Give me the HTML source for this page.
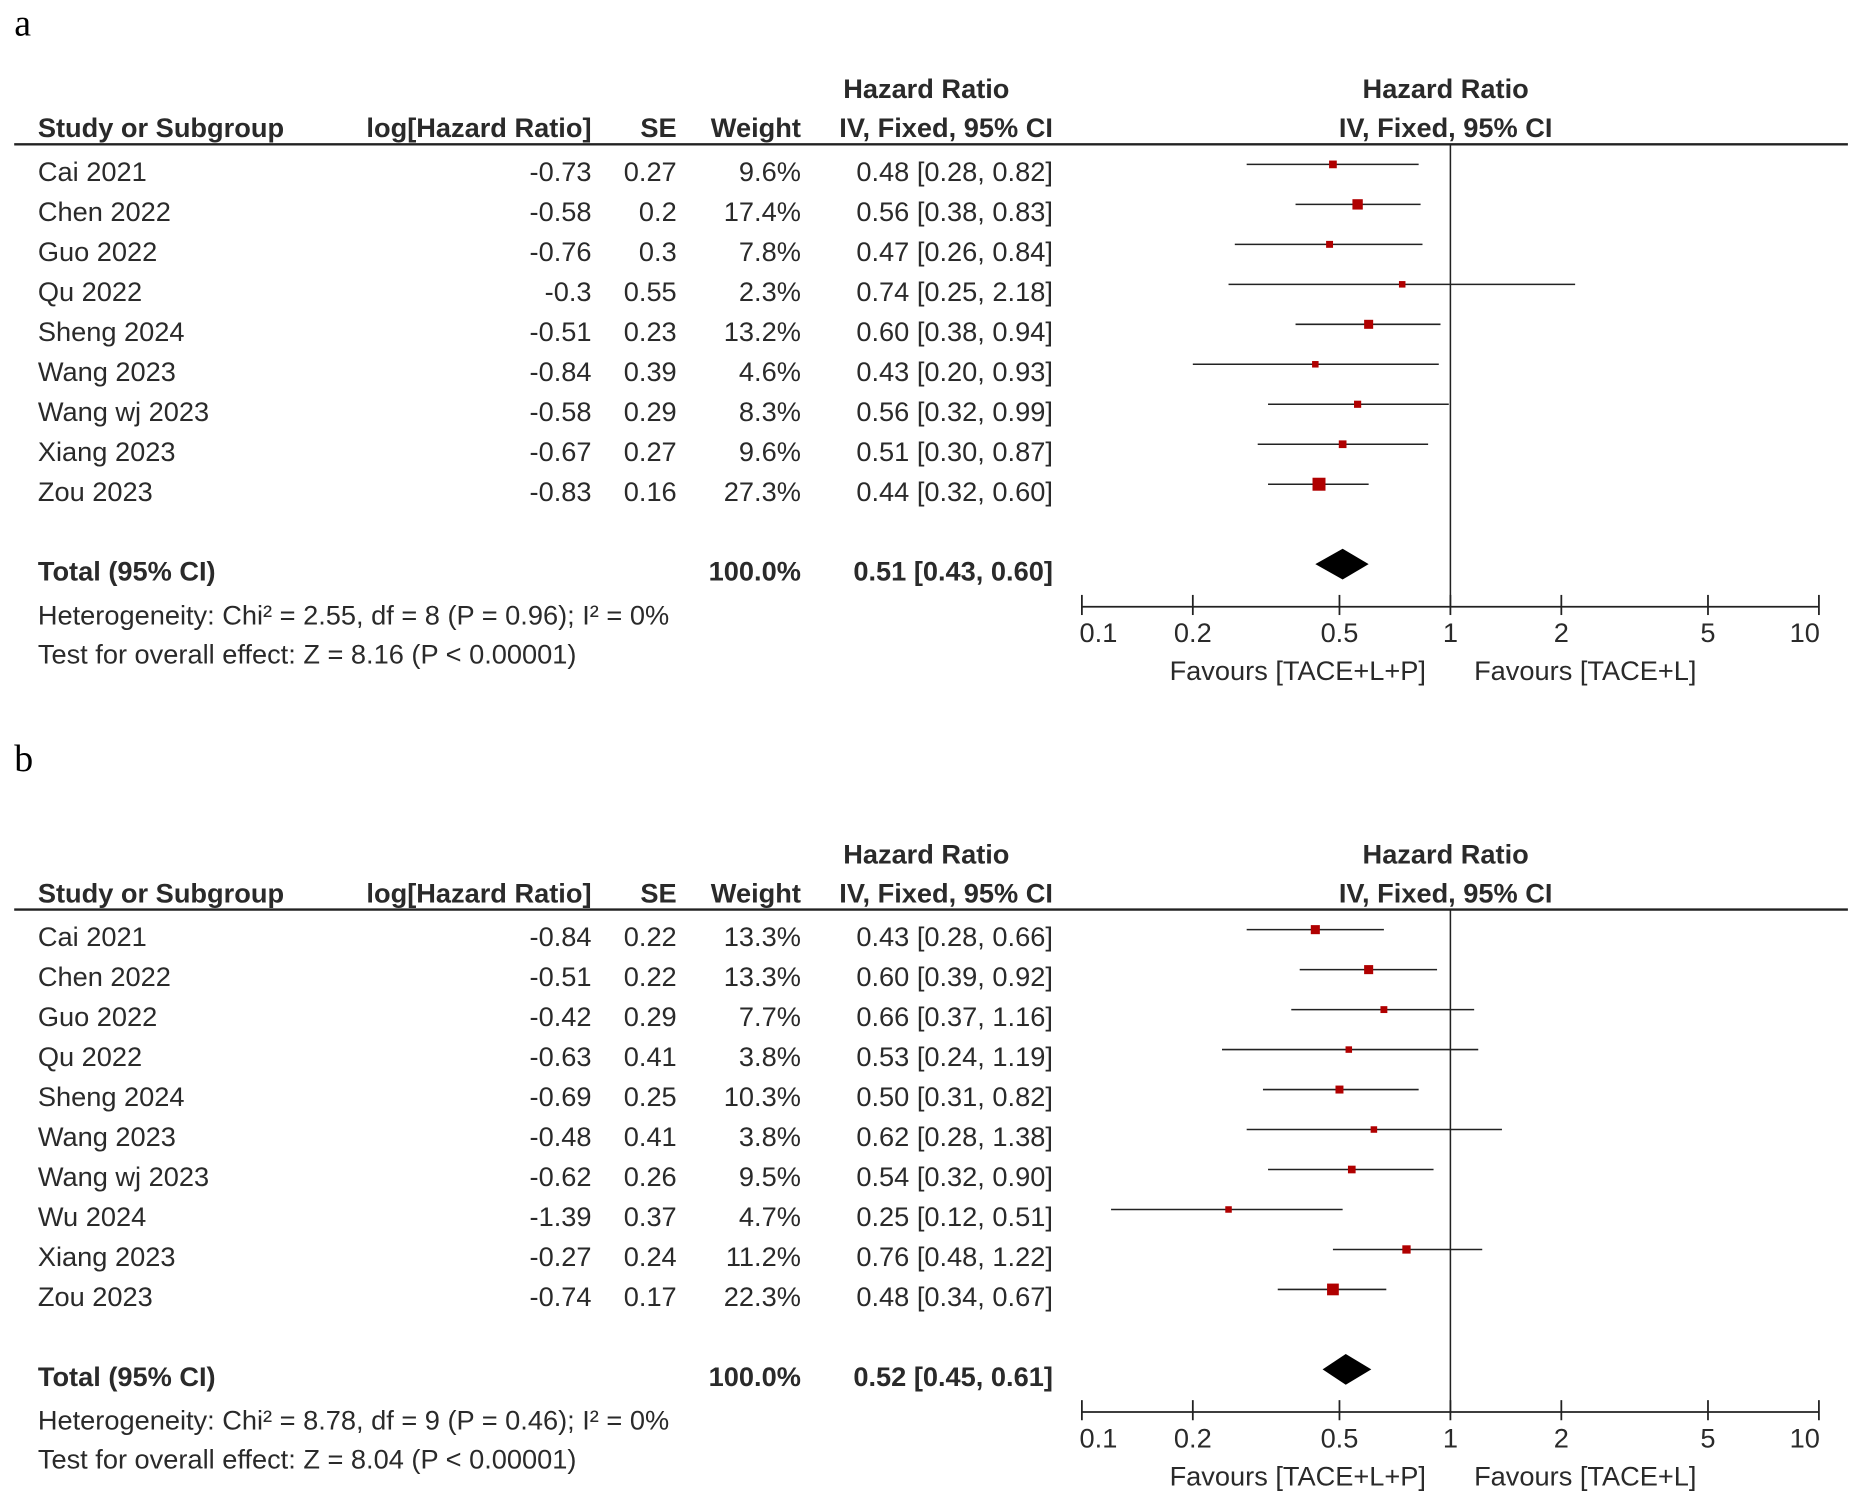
<!DOCTYPE html>
<html><head><meta charset="utf-8"><style>
html,body{margin:0;padding:0;background:#fff;}
svg{display:block;}
text{font-family:"Liberation Sans",Arial,sans-serif;font-size:23px;fill:#2a2a2a;}
.b{font-weight:bold;}
.lab{font-family:"Liberation Serif",serif;font-size:32px;fill:#000;}
</style></head><body>
<svg id="chart" width="1855" height="1495" viewBox="0 0 1568 1264" preserveAspectRatio="none" xmlns="http://www.w3.org/2000/svg"></svg>
<script>
const studiesA=["Cai 2021","Chen 2022","Guo 2022","Qu 2022","Sheng 2024","Wang 2023","Wang wj 2023","Xiang 2023","Zou 2023"];
const logA=["-0.73","-0.58","-0.76","-0.3","-0.51","-0.84","-0.58","-0.67","-0.83"];
const seA=["0.27","0.2","0.3","0.55","0.23","0.39","0.29","0.27","0.16"];
const weightA=[9.6,17.4,7.8,2.3,13.2,4.6,8.3,9.6,27.3];
const hrA=[0.48,0.56,0.47,0.74,0.60,0.43,0.56,0.51,0.44];
const lowA=[0.28,0.38,0.26,0.25,0.38,0.20,0.32,0.30,0.32];
const highA=[0.82,0.83,0.84,2.18,0.94,0.93,0.99,0.87,0.60];
const totalA=[0.51,0.43,0.60];
const hetA="Heterogeneity: Chi² = 2.55, df = 8 (P = 0.96); I² = 0%";
const testA="Test for overall effect: Z = 8.16 (P < 0.00001)";

const studiesB=["Cai 2021","Chen 2022","Guo 2022","Qu 2022","Sheng 2024","Wang 2023","Wang wj 2023","Wu 2024","Xiang 2023","Zou 2023"];
const logB=["-0.84","-0.51","-0.42","-0.63","-0.69","-0.48","-0.62","-1.39","-0.27","-0.74"];
const seB=["0.22","0.22","0.29","0.41","0.25","0.41","0.26","0.37","0.24","0.17"];
const weightB=[13.3,13.3,7.7,3.8,10.3,3.8,9.5,4.7,11.2,22.3];
const hrB=[0.43,0.60,0.66,0.53,0.50,0.62,0.54,0.25,0.76,0.48];
const lowB=[0.28,0.39,0.37,0.24,0.31,0.28,0.32,0.12,0.48,0.34];
const highB=[0.66,0.92,1.16,1.19,0.82,1.38,0.90,0.51,1.22,0.67];
const totalB=[0.52,0.45,0.61];
const hetB="Heterogeneity: Chi² = 8.78, df = 9 (P = 0.46); I² = 0%";
const testB="Test for overall effect: Z = 8.04 (P < 0.00001)";

const ticks=[0.1,0.2,0.5,1,2,5,10];
const tickLabels=["0.1","0.2","0.5","1","2","5","10"];

const NS="http://www.w3.org/2000/svg";
const svg=document.getElementById('chart');
function xs(v){return 1226+Math.log10(v)*311.5;}
function f2(v){return v.toFixed(2);}
function mk(tag,attrs,parent){const e=document.createElementNS(NS,tag);for(const k in attrs)e.setAttribute(k,attrs[k]);(parent||svg).appendChild(e);return e;}
function txt(s,x,y,anchor,cls,parent){const t=mk('text',{x:x,y:y,'text-anchor':anchor||'start'},parent);if(cls)t.setAttribute('class',cls);t.textContent=s;return t;}

function panel(off,labY,letter,studies,logs,ses,weights,hr,lo,hi,tot,het,test){
  const g=mk('g',{});
  
  
  let t=txt(letter,12,labY,'start','lab',g);
  
  
  t=txt("Hazard Ratio",783,off+83,'middle','b',g);
  
  
  t=txt("Hazard Ratio",1222,off+83,'middle','b',g);
  
  
  const hy=off+116;
  const hdr=[["Study or Subgroup",32,'start'],["log[Hazard Ratio]",500,'end'],["SE",572,'end'],["Weight",677,'end'],["IV, Fixed, 95% CI",890,'end'],["IV, Fixed, 95% CI",1222,'middle']];
  hdr.forEach(h=>{const e=txt(h[0],h[1],hy,h[2],'b',g);
    
    });
  const hl=mk('line',{x1:12,x2:1562,y1:off+122,y2:off+122,stroke:'#222','stroke-width':2},g);
  
  
  const step=33.8, r0=off+145;
  const n=studies.length;
  const axisY=r0+(n+1)*step+30;
  const vl=mk('line',{x1:1226,x2:1226,y1:off+122,y2:axisY,stroke:'#222','stroke-width':1.3},g);
  
  
  for(let i=0;i<n;i++){
    const cy=r0+i*step, by=cy+8;
    const row=mk('g',{},g);
    
    
    txt(studies[i],32,by,'start','',row);
    txt(logs[i],500,by,'end','',row);
    txt(ses[i],572,by,'end','',row);
    txt(weights[i].toFixed(1)+'%',677,by,'end','',row);
    txt(f2(hr[i])+' ['+f2(lo[i])+', '+f2(hi[i])+']',890,by,'end','',row);
    const my=cy-6;
    const ci=mk('line',{x1:xs(lo[i]),x2:xs(hi[i]),y1:my,y2:my,stroke:'#222','stroke-width':1.3},row);
    
    
    const s=Math.max(5.5,Math.sqrt(weights[i])*2.1);
    const sq=mk('rect',{x:xs(hr[i])-s/2,y:my-s/2,width:s,height:s,fill:'#b00000'},row);
    
    
  }
  const ty=r0+(n+1)*step;
  t=txt("Total (95% CI)",32,ty+8,'start','b',g);
  
  
  t=txt("100.0%",677,ty+8,'end','b',g);
  
  
  t=txt(f2(tot[0])+' ['+f2(tot[1])+', '+f2(tot[2])+']',890,ty+8,'end','b',g);
  
  
  const dy=ty-6;
  const d=mk('polygon',{points:`${xs(tot[1])},${dy} ${xs(tot[0])},${dy-13} ${xs(tot[2])},${dy} ${xs(tot[0])},${dy+13}`,fill:'#000'},g);
  
  
  t=txt(het,32,ty+45,'start','',g);
  
  
  t=txt(test,32,ty+78,'start','',g);
  
  
  const ax=mk('g',{},g);
  
  
  mk('line',{x1:xs(0.1),x2:xs(10),y1:axisY,y2:axisY,stroke:'#222','stroke-width':1.5},ax);
  ticks.forEach((v,i)=>{
    mk('line',{x1:xs(v),x2:xs(v),y1:axisY-10,y2:axisY+7,stroke:'#222','stroke-width':1.5},ax);
    const tl=txt(tickLabels[i],xs(v)+(i==0?14:i==6?-12:0),axisY+30,'middle','',ax);
    
    
  });
  t=txt("Favours [TACE+L+P]",1097,axisY+62,'middle','',g);
  
  
  t=txt("Favours [TACE+L]",1340,axisY+62,'middle','',g);
  
  
}
panel(0,30,'a',studiesA,logA,seA,weightA,hrA,lowA,highA,totalA,hetA,testA);
panel(647,652,'b',studiesB,logB,seB,weightB,hrB,lowB,highB,totalB,hetB,testB);
</script>
</body></html>
